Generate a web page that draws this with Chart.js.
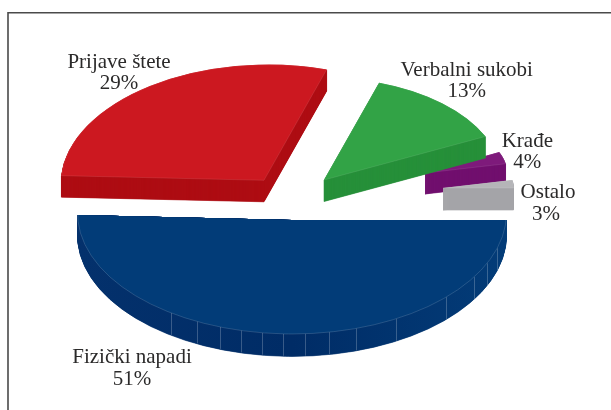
<!DOCTYPE html>
<html>
<head>
<meta charset="utf-8">
<style>html,body{margin:0;padding:0;background:#fff}canvas{display:block}</style>
<script src="https://cdn.jsdelivr.net/npm/chart.js@4"></script>
</head>
<body>
<canvas id="c" width="611" height="410"></canvas>
<script>
const categories = ['Fizički napadi', 'Prijave štete', 'Verbalni sukobi', 'Krađe', 'Ostalo'];
const shares = [51, 29, 13, 4, 3];
const topColors = ['#023c78', '#cc1820', '#32a346', '#7e1a7b', '#b5b5b8'];
const sideColors = ['#032f6b', '#ae0d13', '#27903a', '#710f6e', '#a6a6a9'];

// Presentation only: where each exploded wedge sits and how it is foreshortened.
const wedgeLayout = [
  { ax: 292,   ay: 213,   r: 214.5, k: 0.564, depth: 22.4, skew: 0, rim: 0.32,
    cut: [[0, 211.5], [77, 215], [292, 220], [611, 220], [611, 410], [0, 410]] },
  { ax: 264,   ay: 180.3, r: 203,   k: 0.57,  depth: 21.5, skew: -0.013, rim: 0.2 },
  { ax: 324,   ay: 180,   r: 178.5, k: 0.573, depth: 21.5, skew: 0, rim: 0.2 },
  { ax: 425,   ay: 173,   r: 82,    k: 0.6,   depth: 21,   skew: 0, rim: 0.2 },
  { ax: 443,   ay: 188,   r: 70.5,  k: 0.6,   depth: 22,   skew: 0, rim: 0.2 }
];
const drawOrder = [1, 0, 3, 2, 4];
const labelSpots = [
  { x: 132, y: 362.7, py: 385 },
  { x: 119, y: 67.7, py: 88.5 },
  { x: 466.7, y: 76, py: 96.7 },
  { x: 527.3, y: 146.7, py: 168 },
  { x: 548, y: 197.7, py: 220, px: 546 }
];
const blueFacetAngles = [124.3, 116.3, 109.6, 103.8, 98, 92.4, 86.5, 80, 72.6, 61, 44.1, 32, 24.6, 17];

function drawWedge(ctx, el, lay, dy, opts) {
  const R = el.outerRadius;
  const s = lay.r / R;
  const ghost = Object.create(el);
  ghost.options = Object.assign({}, el.options, opts);
  ctx.save();
  ctx.transform(s, lay.skew * s, 0, lay.k * s, lay.ax, lay.ay + dy);
  ctx.translate(-el.x, -el.y);
  ghost.draw(ctx);
  ctx.restore();
}

const pseudo3d = {
  id: 'pseudo3d',
  beforeDraw(chart) {
    const ctx = chart.ctx;
    ctx.save();
    ctx.fillStyle = '#fff';
    ctx.fillRect(0, 0, chart.width, chart.height);
    ctx.strokeStyle = '#4a4a4a';
    ctx.lineWidth = 1.6;
    ctx.beginPath();
    ctx.moveTo(chart.width, 12.8);
    ctx.lineTo(8, 12.8);
    ctx.lineTo(8, chart.height);
    ctx.stroke();
    ctx.restore();
  },
  beforeDatasetsDraw(chart) {
    const ctx = chart.ctx;
    const arcs = chart.getDatasetMeta(0).data;
    drawOrder.forEach(i => {
      const el = arcs[i], lay = wedgeLayout[i];
      ctx.save();
      if (lay.cut) {
        ctx.beginPath();
        lay.cut.forEach(([x, y], n) => n ? ctx.lineTo(x, y) : ctx.moveTo(x, y));
        ctx.closePath();
        ctx.clip();
      }
      let side = sideColors[i];
      if (i === 0) {
        const g = ctx.createLinearGradient(el.x - el.outerRadius, 0, el.x + el.outerRadius, 0);
        g.addColorStop(0, '#04316c');
        g.addColorStop(0.5, '#002c66');
        g.addColorStop(1, '#033c78');
        side = g;
      }
      for (let d = lay.depth; d > 0; d -= 0.5) {
        drawWedge(ctx, el, lay, d, {
          backgroundColor: side,
          borderColor: side,
          borderWidth: 0.8 * el.outerRadius / lay.r,
          borderJoinStyle: 'round'
        });
      }
      if (i === 0) {
        ctx.save();
        ctx.strokeStyle = 'rgba(255,255,255,0.22)';
        ctx.lineWidth = 1;
        blueFacetAngles.forEach(a => {
          const t = a * Math.PI / 180;
          const x = lay.ax + lay.r * Math.cos(t);
          const y = lay.ay + lay.r * lay.k * Math.sin(t) + lay.skew * lay.r * Math.cos(t);
          ctx.beginPath();
          ctx.moveTo(Math.round(x) + 0.5, y);
          ctx.lineTo(Math.round(x) + 0.5, y + lay.depth - 0.5);
          ctx.stroke();
        });
        ctx.restore();
      }
      drawWedge(ctx, el, lay, 0, {
        backgroundColor: topColors[i],
        borderColor: 'rgba(255,255,255,' + lay.rim + ')',
        borderWidth: 0.6 * el.outerRadius / lay.r
      });
      ctx.restore();
    });
    return false;
  },
  afterDraw(chart) {
    const ctx = chart.ctx;
    ctx.save();
    ctx.font = '21px "Liberation Serif", serif';
    ctx.fillStyle = '#2b2a2a';
    ctx.textAlign = 'center';
    ctx.textBaseline = 'alphabetic';
    categories.forEach((name, i) => {
      const p = labelSpots[i];
      ctx.fillText(name, p.x, p.y);
      ctx.fillText(shares[i] + '%', p.px || p.x, p.py);
    });
    ctx.restore();
  }
};

new Chart(document.getElementById('c'), {
  type: 'pie',
  data: {
    labels: categories,
    datasets: [{ data: shares, backgroundColor: topColors, borderWidth: 0 }]
  },
  options: {
    responsive: false,
    animation: false,
    rotation: 90,
    plugins: { legend: { display: false }, tooltip: { enabled: false } }
  },
  plugins: [pseudo3d]
});
</script>
</body>
</html>
